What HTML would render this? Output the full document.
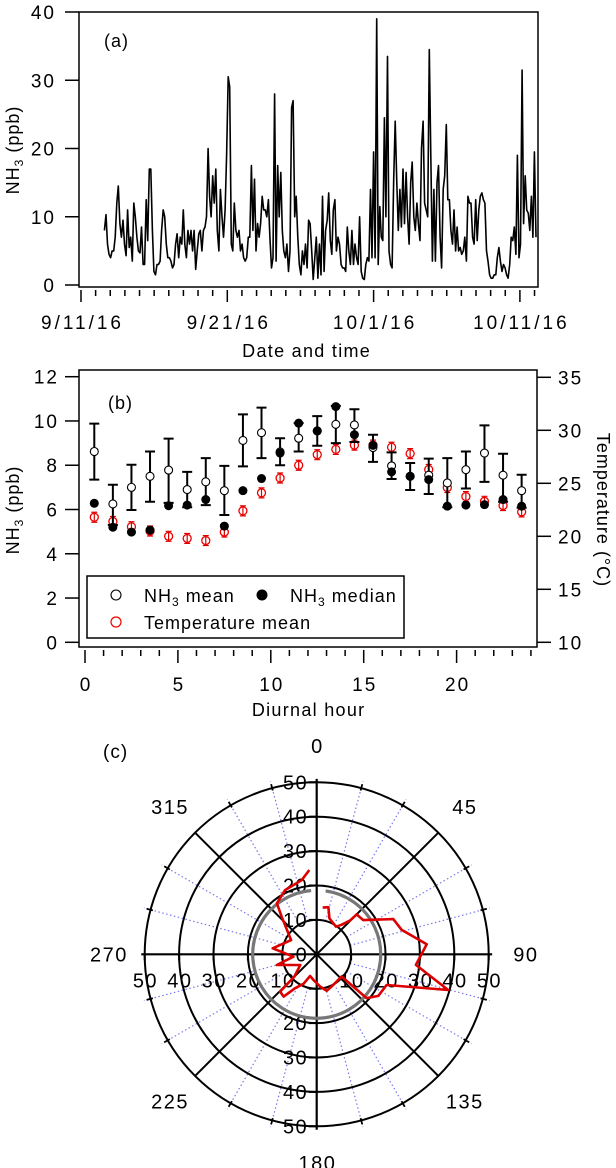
<!DOCTYPE html>
<html><head><meta charset="utf-8">
<style>
html,body{margin:0;padding:0;background:#fff;}
svg{display:block;font-family:"Liberation Sans","DejaVu Sans",sans-serif;}
</style></head>
<body>
<svg id="fig" width="616" height="1168" viewBox="0 0 616 1168" xmlns="http://www.w3.org/2000/svg">
<g id="pa"></g>
<g id="pb"></g>
<g id="pc"></g>
</svg>
<script>
// ---------- Panel (a) data ----------
const tsStartDay = 1.6;   // days after 9/11/16
const tsEndDay = 31.1;
const tsValues = [8,10.3,6,4.5,4,5,5,7,12,14.5,9,7,9.5,6,4.3,11,5.5,7,3.5,12,10,7,5,4.7,8.5,3,3,12.5,6.5,17,17,8,2,1.5,3,3,3.5,8,11,10,6,4,4,3.5,2.5,3,6,7.5,4,7,6,11,6,4,8,6,8,5,8,2.3,5,7.5,8,5,8,8.5,10,20,13,10,16,12,17,8,5,14,10,7,11,19,30.5,29,6,5,12,8,7,8,5,6,4,3.5,4,7,7,17.5,8,15.5,5,9,7,9,13,11,11,10,12.5,7,2.5,4,28,3.5,17.5,10,16.5,8,5,4,6,2,5,26,27,10,13,7,3,1.5,5,3,6,2.5,9.5,9,5,0.8,4,7,1,6,1.5,13,2,8,9.5,13.5,6.5,4.5,11,12.5,5,7,6,3,2.5,2.5,2,8.5,5,3,8,3,6,4,3,10,2,1,0.8,3,4,3.5,14,4,19.5,4,39,3,11.5,7,6.5,24.5,10,33.5,5,3,2.5,15.5,24,15,8,14,8.5,17,9,16.5,10,6,15,18,10,8,12,9,6.5,20,24,12,11,10,34.5,19,3.5,14,3.5,15,17.5,7,2.5,14,16,23.5,12.5,12.5,8,6,11,5,8.5,5,5.5,4.5,5,7,3.5,13,12,12,7,6,12.5,6.5,11,13,13.5,12.5,12,5,3.5,1.5,1,1,1.5,1.5,4,5.5,3.5,2,3,2.5,1.5,1,3,7,6.5,8.5,4.5,19,4,6,31.5,9,16,11,10.5,8,13,7,19.5,7];
const aYTicks = [0,10,20,30,40];
const aXLabels = ["9/11/16","9/21/16","10/1/16","10/11/16"];
const aXLabelDays = [0,10,20,30];

// ---------- Panel (b) data ----------
const hours = [0.5,1.5,2.5,3.5,4.5,5.5,6.5,7.5,8.5,9.5,10.5,11.5,12.5,13.5,14.5,15.5,16.5,17.5,18.5,19.5,20.5,21.5,22.5,23.5];
const nh3Mean = [8.62,6.25,7.0,7.5,7.78,6.9,7.25,6.85,9.12,9.47,8.6,9.22,9.55,9.85,9.82,8.8,7.97,7.5,7.55,7.2,7.8,8.55,7.55,6.85];
const nh3Low = [7.35,5.3,5.98,6.35,6.3,6.1,6.2,5.75,7.95,8.32,8.0,8.62,8.88,9.0,9.05,8.15,7.38,6.88,6.7,6.1,6.95,7.25,6.35,6.08];
const nh3High = [9.88,7.12,8.02,8.62,9.2,7.7,8.32,7.97,10.3,10.6,9.22,9.9,10.22,10.68,10.53,9.38,8.58,8.1,8.3,8.32,8.62,9.8,8.52,7.57];
const nh3Median = [6.28,5.2,4.98,5.07,6.17,6.2,6.45,5.25,6.85,7.4,8.55,9.9,9.55,10.65,9.38,8.9,7.7,7.5,7.35,6.15,6.2,6.22,6.45,6.15];
const tempMean = [21.8,21.4,20.9,20.5,20.0,19.8,19.6,20.4,22.4,24.1,25.5,26.7,27.7,28.2,28.6,28.6,28.4,27.8,26.3,24.6,23.75,23.3,22.9,22.3];
const bYTicks = [0,2,4,6,8,10,12];
const bY2Ticks = [10,15,20,25,30,35];
const bXTicks = [0,5,10,15,20];

// ---------- Panel (c) data ----------
const polarAngles = [7.3,14,19.4,35,40,44.7,45,53.7,65.3,74,84.8,96.1,105.2,113.7,124,131.3,131.4,131.8,155,164.7,174,187.4,197,204,212.5,218,224.5,225,237,255,264,277.8,299,317,322,333.8,348.6,355];
const polarValues = [13.7,14.1,11.1,9.8,11.2,14.0,16.4,16.8,24.5,25.7,32.1,29.0,39.6,22.2,21.6,19.3,14.2,9.7,10.3,11.0,9.4,7.5,6.6,9.4,11.7,15.6,15.2,9.2,5.7,12.0,6.8,12.9,8.5,14.9,18.8,20.8,22.0,24.6];
const meanRadius = [18.6];
const rTicks = [10,20,30,40,50];
const angleLabels = ["0","45","90","135","180","225","270","315"];
const angleLabelDeg = [0,45,90,135,180,225,270,315];

const NS = "http://www.w3.org/2000/svg";
function mk(tag, parent, attrs){
  const e = document.createElementNS(NS, tag);
  for (const k in attrs) e.setAttribute(k, attrs[k]);
  parent.appendChild(e);
  return e;
}
function txt(parent, x, y, s, anchor, size, ls){
  const sz = size||19;
  const sp = (ls===undefined)?2:ls;
  let xx = x;
  if ((anchor||"middle")==="end") xx = x + sp;
  else if ((anchor||"middle")==="middle") xx = x + sp/2;
  const t = mk("text", parent, {x:xx, y:y, "text-anchor":anchor||"middle", "font-size":sz, "letter-spacing":sp, fill:"#000"});
  t.textContent = s;
  return t;
}

// ================= Panel A =================
(function(){
  const g = document.getElementById("pa");
  const L=79, R=538, T=12, B=287;
  const ya = v => 285 - v*(273/40);
  const xa = d => 81 + d*14.63;
  const frame = mk("rect", g, {x:L, y:T, width:R-L, height:B-T, fill:"none", stroke:"#000", "stroke-width":1.5});
  
  
  aYTicks.forEach(v=>{
    const tk = mk("line", g, {x1:65, x2:L, y1:ya(v), y2:ya(v), stroke:"#000", "stroke-width":1.5});
    
    
    const lb = txt(g, 54, ya(v)+7, String(v), "end");
    
    
  });
  for (let d=0; d<=31; d++){
    const major = (d%10===0);
    const tk = mk("line", g, {x1:xa(d), x2:xa(d), y1:290, y2:major?302:296, stroke:"#000", "stroke-width":1.5});
    
    
  }
  aXLabels.forEach((s,i)=>{
    const lb = txt(g, xa(aXLabelDays[i]), 329, s, "middle", 19, 3);
    
    
  });
  const xt = txt(g, 306, 357, "Date and time", "middle", 18, 1.3);
  
  
  const yt = mk("text", g, {transform:"translate(19,150) rotate(-90)", "text-anchor":"middle", "font-size":18, "letter-spacing":1});
  yt.innerHTML = 'NH<tspan font-size="12" dy="4">3</tspan><tspan dy="-4"> (ppb)</tspan>';
  
  
  const lab = txt(g, 104, 47, "(a)", "start", 18, 1);
  
  
  const n = tsValues.length;
  const step = (tsEndDay - tsStartDay)/(n-1);
  const pts = tsValues.map((v,i)=> xa(tsStartDay+i*step).toFixed(1)+","+ya(v).toFixed(1)).join(" ");
  const line = mk("polyline", g, {points:pts, fill:"none", stroke:"#000", "stroke-width":1.6, "stroke-linejoin":"round"});
  
  
})();

// ================= Panel B =================
(function(){
  const g = document.getElementById("pb");
  const L=79, R=537, T=370, B=647;
  const yb = v => 642.3 - v*(265.6/12);
  const yt2 = t => 642.3 - (t-10)*(265/25);
  const xb = h => 85 + h*18.58;
  const frame = mk("rect", g, {x:L, y:T, width:R-L, height:B-T, fill:"none", stroke:"#000", "stroke-width":1.5});
  
  
  bYTicks.forEach(v=>{
    const tk = mk("line", g, {x1:65, x2:L, y1:yb(v), y2:yb(v), stroke:"#000", "stroke-width":1.5});
    
    
    const lb = txt(g, 57, yb(v)+7, String(v), "end");
    
    
  });
  bY2Ticks.forEach(v=>{
    const tk = mk("line", g, {x1:R, x2:551, y1:yt2(v), y2:yt2(v), stroke:"#000", "stroke-width":1.5});
    
    
    const lb = txt(g, 558, yt2(v)+7, String(v), "start");
    
    
  });
  for (let h=0; h<=24; h++){
    const major = (h%5===0);
    const tk = mk("line", g, {x1:xb(h), x2:xb(h), y1:650, y2:major?663:656, stroke:"#000", "stroke-width":1.5});
    
    
  }
  bXTicks.forEach(v=>{
    const lb = txt(g, xb(v), 691, String(v));
    
    
  });
  const xt = txt(g, 308, 716, "Diurnal hour", "middle", 18, 1.3);
  
  
  const ytl = mk("text", g, {transform:"translate(19,510) rotate(-90)", "text-anchor":"middle", "font-size":18, "letter-spacing":1});
  ytl.innerHTML = 'NH<tspan font-size="12" dy="4">3</tspan><tspan dy="-4"> (ppb)</tspan>';
  
  
  const ytr = mk("text", g, {transform:"translate(597,510) rotate(90)", "text-anchor":"middle", "font-size":18, "letter-spacing":1});
  ytr.textContent = "Temperature (°C)";
  
  
  const lab = txt(g, 108, 409, "(b)", "start", 18, 1);
  
  

  hours.forEach((h,i)=>{
    const x = xb(h), y = yt2(tempMean[i]);
    const eb = mk("path", g, {d:`M${x} ${y-5}V${y+5}M${x-3} ${y-5}H${x+3}M${x-3} ${y+5}H${x+3}`, stroke:"#d00", "stroke-width":1.2, fill:"none"});
    
    
    const c = mk("circle", g, {cx:x, cy:y, r:4, fill:"none", stroke:"#e00", "stroke-width":1.3});
    
    
  });
  hours.forEach((h,i)=>{
    const x = xb(h), y1 = yb(nh3Low[i]), y2 = yb(nh3High[i]);
    const eb = mk("path", g, {d:`M${x} ${y1}V${y2}M${x-5} ${y1}H${x+5}M${x-5} ${y2}H${x+5}`, stroke:"#000", "stroke-width":2, fill:"none"});
    
    
    const c = mk("circle", g, {cx:x, cy:yb(nh3Mean[i]), r:4, fill:"#fff", stroke:"#000", "stroke-width":1.1});
    
    
  });
  hours.forEach((h,i)=>{
    const c = mk("circle", g, {cx:xb(h), cy:yb(nh3Median[i]), r:4.5, fill:"#000"});
    
    
  });
  const lg = mk("g", g, {});
  
  
  mk("rect", lg, {x:87, y:576, width:317, height:62, fill:"#fff", stroke:"#000", "stroke-width":1.5});
  const m1 = mk("circle", lg, {cx:116, cy:595, r:5, fill:"none", stroke:"#000", "stroke-width":1.1});
  
  
  const t1 = mk("text", lg, {x:144, y:602, "font-size":18, "letter-spacing":1});
  t1.innerHTML = 'NH<tspan font-size="12" dy="4">3</tspan><tspan dy="-4"> mean</tspan>';
  
  
  const m2 = mk("circle", lg, {cx:262, cy:595, r:5.5, fill:"#000"});
  
  
  const t2 = mk("text", lg, {x:290, y:602, "font-size":18, "letter-spacing":1});
  t2.innerHTML = 'NH<tspan font-size="12" dy="4">3</tspan><tspan dy="-4"> median</tspan>';
  
  
  const m3 = mk("circle", lg, {cx:116, cy:622, r:5, fill:"none", stroke:"#e00", "stroke-width":1.2});
  
  
  const t3 = mk("text", lg, {x:144, y:629, "font-size":18, "letter-spacing":1});
  t3.textContent = "Temperature mean";
  
  
})();

// ================= Panel C =================
(function(){
  const g = document.getElementById("pc");
  const cx = 316.7, cy = 954.3, k = 172/50;
  const pol = (deg, r) => { const a = deg*Math.PI/180; return [cx + r*k*Math.sin(a), cy - r*k*Math.cos(a)]; };
  for (let d=0; d<360; d+=15){
    if (d%45===0) continue;
    const p1 = pol(d, 10), p2 = pol(d, 52);
    const s = mk("line", g, {x1:p1[0], y1:p1[1], x2:p2[0], y2:p2[1], stroke:"#7777ee", "stroke-width":1.2, "stroke-dasharray":"1.5,2.5"});
    
    
    const q1 = pol(d, 49.3), q2 = pol(d, 51.2);
    const tk = mk("line", g, {x1:q1[0], y1:q1[1], x2:q2[0], y2:q2[1], stroke:"#000", "stroke-width":1.8});
    
    
  }
  rTicks.forEach(r=>{
    const c = mk("circle", g, {cx:cx, cy:cy, r:r*k, fill:"none", stroke:"#000", "stroke-width":2});
    
    
  });
  [45,135,225,315].forEach(d=>{
    const p = pol(d, 50);
    const l = mk("line", g, {x1:cx, y1:cy, x2:p[0], y2:p[1], stroke:"#000", "stroke-width":2});
    
    
  });
  const ax1 = mk("line", g, {x1:cx, y1:cy-51*k, x2:cx, y2:cy+51*k, stroke:"#000", "stroke-width":2.2});
  
  
  const ax2 = mk("line", g, {x1:cx-51*k, y1:cy, x2:cx+51*k, y2:cy, stroke:"#000", "stroke-width":2.2});
  
  
  rTicks.forEach(r=>{
    [-1,1].forEach(sg=>{
      const y = cy + sg*r*k;
      const tk = mk("line", g, {x1:cx-8, x2:cx, y1:y, y2:y, stroke:"#000", "stroke-width":2});
      
      
      if (!(sg===1 && r===10)) {
        const lb = txt(g, cx-10, y+7, String(r), "end", 20, 1.5);
        
        
      }
      const x = cx + sg*r*k;
      const tk2 = mk("line", g, {x1:x, x2:x, y1:cy, y2:cy+6, stroke:"#000", "stroke-width":2});
      
      
      const lb2 = txt(g, x, cy+33, String(r), "middle", 20, 1.5);
      
      
    });
  });
  const c0 = txt(g, cx-10, cy+7, "0", "end", 20, 1.5);
  
  
  const mr = meanRadius[0];
  const a1 = pol(8, mr), a2 = pol(355, mr);
  const mc = mk("path", g, {d:`M${a1[0]} ${a1[1]} A${mr*k} ${mr*k} 0 1 1 ${a2[0]} ${a2[1]}`, fill:"none", stroke:"#777", "stroke-width":3.2});
  
  
  const pts = polarAngles.map((d,i)=> pol(d, polarValues[i]).map(v=>v.toFixed(1)).join(",")).join(" ");
  const rl = mk("polyline", g, {points:pts, fill:"none", stroke:"#d00", "stroke-width":2.6, "stroke-linejoin":"round"});
  
  
  angleLabels.forEach((s,i)=>{
    const d = angleLabelDeg[i];
    const p = pol(d, 60.6);
    const lb = txt(g, p[0], p[1]+7, s, "middle", 20, 1.5);
    
    
  });
  const lab = txt(g, 103, 758, "(c)", "start", 19, 1);
  
  
})();
</script>
</body></html>
